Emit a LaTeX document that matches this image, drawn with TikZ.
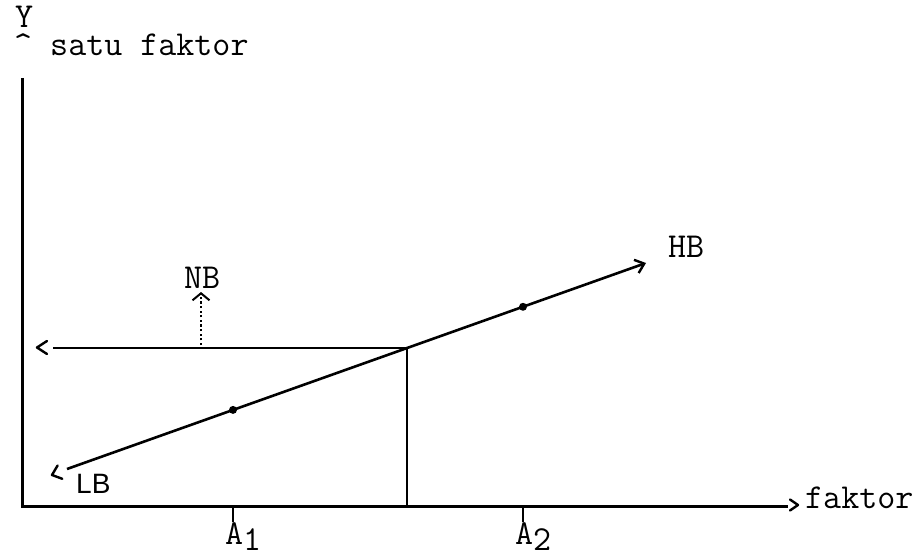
\documentclass[tikz,border=0pt]{standalone}
\usepackage{fontspec}
\newfontfamily\lbfont{Liberation Sans}
\usetikzlibrary{arrows.meta}
\begin{document}
\begin{tikzpicture}[x=1pt,y=-1pt,
  axis/.style={line width=3pt},
  thin line/.style={line width=2.6pt},
  lbl/.style={inner sep=0pt, font=\ttfamily\fontsize{35}{42}\selectfont, anchor=base west},
  chev/.style={line width=2.4pt, line cap=round, line join=round},
  dotpt/.style={circle, fill, inner sep=0pt, minimum size=8pt}]
\useasboundingbox (0,0) rectangle (923,556);
% key points
\coordinate (O) at (22,506);
\coordinate (Ytop) at (22,78);
\coordinate (Xend) at (788,506);
\coordinate (LBs) at (67,469);
\coordinate (HBt) at (646,263);
\coordinate (P) at (407,348);
\coordinate (Pb) at (407,506);
\coordinate (H0) at (53,348);
\coordinate (N0) at (201,345);
\coordinate (N1) at (201,292);
\coordinate (T1) at (233,506);
\coordinate (T1b) at (233,522);
\coordinate (T2) at (523,506);
\coordinate (T2b) at (523,522);
% texts
\node[lbl] (Y) at (15,28) {Y};
\node[lbl] (title) at (14,56) {\textasciicircum{} satu faktor};
\node[lbl] (fak) at (805,508) {faktor};
\node[lbl] (HB) at (668,257) {HB};
\node[lbl] (NB) at (184,288) {NB};
\node[lbl,font=\lbfont\fontsize{28}{34}\selectfont] (LB) at (76,493) {LB};
\node[lbl] (A1) at (225,544) {A\raisebox{-6pt}{1}};
\node[lbl] (A2) at (515,544) {A\raisebox{-6pt}{2}};
% axes
\draw[axis] (Ytop) -- (O) -- (Xend);
\draw[chev] (790,499.5) -- (798,505) -- (790,510.5);
% ticks
\draw[thin line] (T1) -- (T1b);
\draw[thin line] (T2) -- (T2b);
% horizontal line with separate left chevron
\draw[thin line] (H0) -- (P) -- (Pb);
\draw[chev] (47,341) -- (37,347.5) -- (47,354);
% NB dotted arrow
\draw[line width=2pt, dash pattern=on 2.2pt off 2.4pt,
  -{Straight Barb[length=7pt,width=17pt,line width=2pt]}] (N0) -- (N1);
% main line HB / LB
\draw[thin line, -{Straight Barb[length=8.4pt,width=14pt,line width=2.4pt]}] (LBs) -- (HBt);
\draw[chev] (57.6,465.5) -- (52,475) -- (62.3,478.8);
% points
\node[dotpt] (D1) at (233,409.9) {};
\node[dotpt] (D2) at (523,306.8) {};
\end{tikzpicture}
\end{document}
